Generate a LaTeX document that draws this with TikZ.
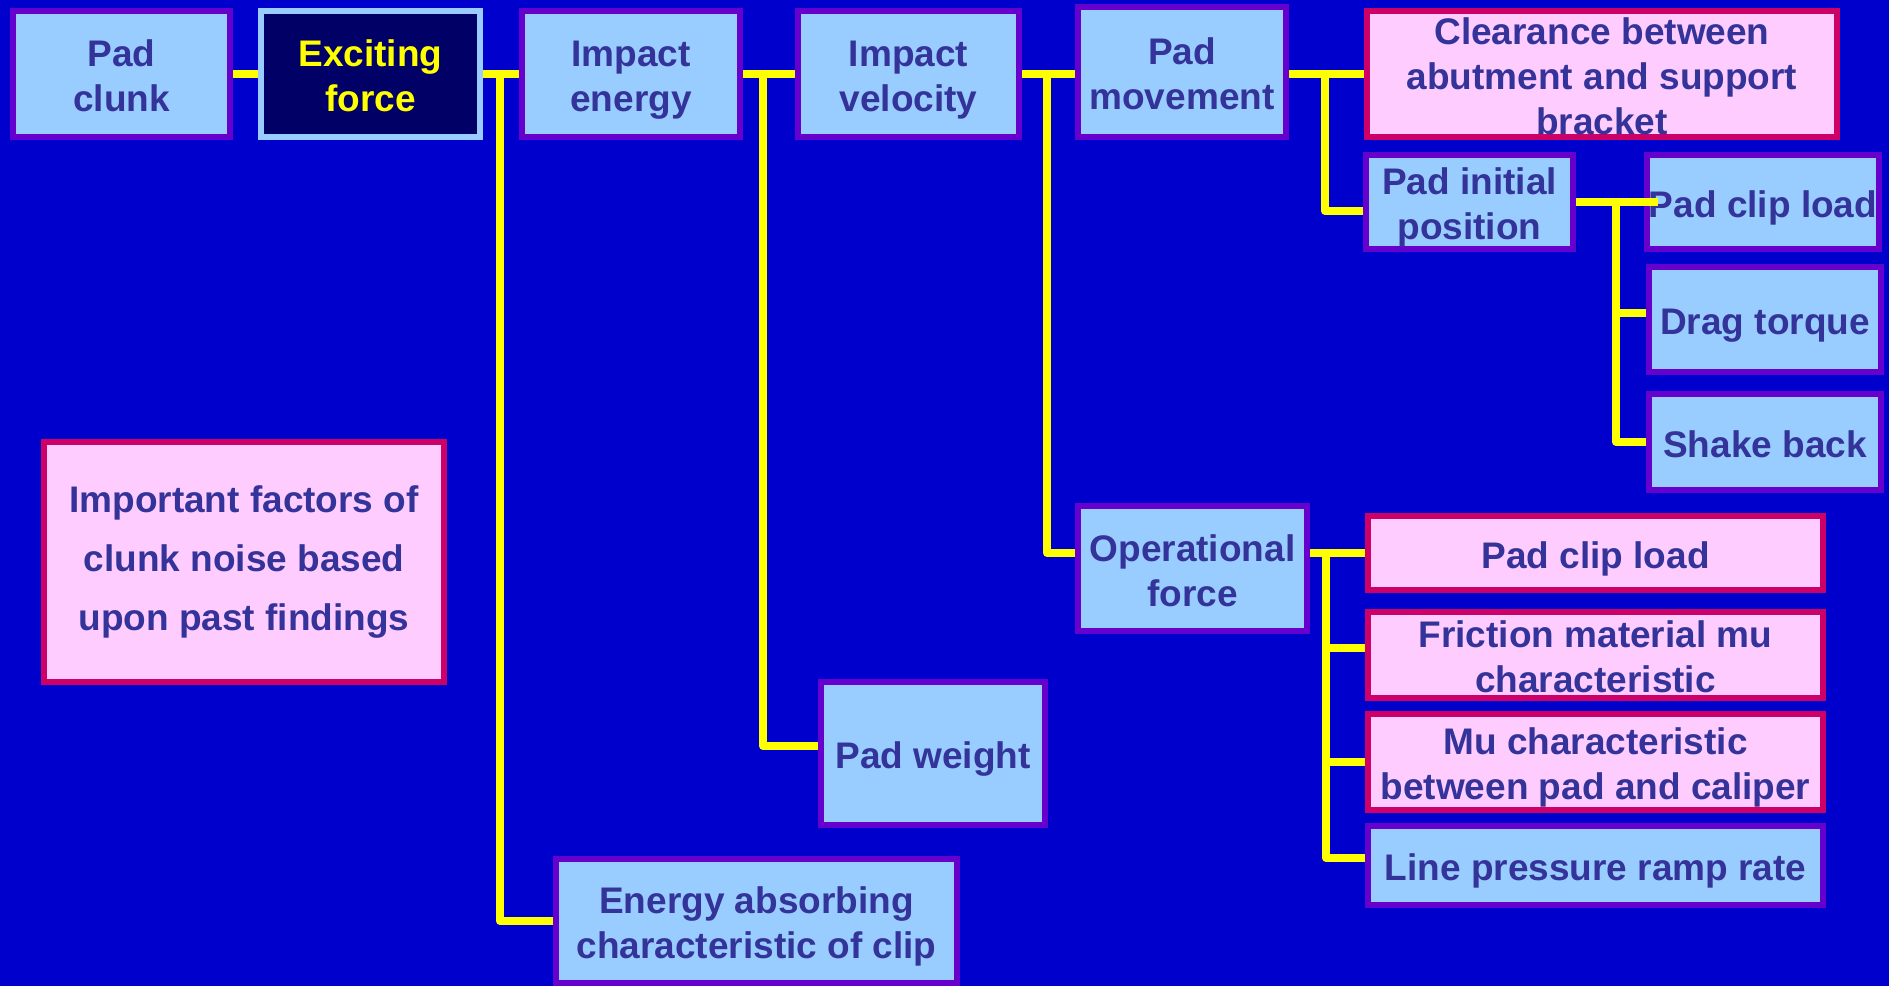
\documentclass[tikz,border=0pt]{standalone}
\usepackage{fontspec}
\setmainfont{Liberation Sans}
\definecolor{bg}{HTML}{0000CC}
\definecolor{lb}{HTML}{99CCFF}
\definecolor{pu}{HTML}{6600CC}
\definecolor{pk}{HTML}{FFCCFF}
\definecolor{cr}{HTML}{CC0066}
\definecolor{tx}{HTML}{333399}
\definecolor{nv}{HTML}{000066}
\definecolor{yl}{HTML}{FFFF00}
\newcommand{\boxtext}[1]{\raisebox{0pt}[\height][\dimexpr\depth-12pt\relax]{\begin{tabular}{@{}c@{}}#1\end{tabular}}}
\tikzset{
  basebox/.style={rectangle, line width=6pt, inner sep=0pt, align=center, text=tx,
    font=\bfseries\fontsize{37}{45}\selectfont},
  bluebox/.style={basebox, draw=pu, fill=lb},
  pinkbox/.style={basebox, draw=cr, fill=pk},
  darkbox/.style={basebox, draw=lb, fill=nv, text=yl},
  conn/.style={draw=yl, line width=8pt, line join=round, line cap=butt},
}
\begin{document}
\begin{tikzpicture}[x=1pt,y=-1pt]
\useasboundingbox (0,0) rectangle (1889,986);
\fill[bg] (0,0) rectangle (1889,986);

\node[bluebox, minimum width=217pt, minimum height=126pt] (padclunk) at (121.5,74) {\boxtext{Pad\\clunk}};
\node[darkbox, minimum width=219pt, minimum height=126pt] (exciting) at (370.5,74) {\boxtext{Exciting\\force}};
\node[bluebox, minimum width=218pt, minimum height=126pt] (impenergy) at (631,74) {\boxtext{Impact\\energy}};
\node[bluebox, minimum width=221pt, minimum height=126pt] (impvel) at (908.5,74) {\boxtext{Impact\\velocity}};
\node[bluebox, minimum width=208pt, minimum height=130pt] (padmove) at (1182,72) {\boxtext{Pad\\movement}};
\node[pinkbox, minimum width=470pt, minimum height=126pt] (clearance) at (1602,74) {\boxtext{Clearance between\\abutment and support\\bracket}};
\node[bluebox, minimum width=207pt, minimum height=94pt] (padinit) at (1469.5,202) {\boxtext{Pad initial\\position}};
\node[bluebox, minimum width=232pt, minimum height=94pt] (pclA) at (1763,202) {\boxtext{Pad clip load}};
\node[bluebox, minimum width=232pt, minimum height=105pt] (drag) at (1765,319.5) {\boxtext{Drag torque}};
\node[bluebox, minimum width=232pt, minimum height=96pt] (shake) at (1765,442) {\boxtext{Shake back}};
\node[pinkbox, minimum width=400pt, minimum height=240pt, font=\bfseries\fontsize{37}{59}\selectfont] (important) at (244,562) {Important factors of\\clunk noise based\\upon past findings};
\node[bluebox, minimum width=229pt, minimum height=125pt] (operational) at (1192.5,568.5) {\boxtext{Operational\\force}};
\node[pinkbox, minimum width=455pt, minimum height=74pt] (pclB) at (1595.5,553) {\boxtext{Pad clip load}};
\node[pinkbox, minimum width=455pt, minimum height=86pt] (friction) at (1595.5,655) {\boxtext{Friction material mu\\characteristic}};
\node[pinkbox, minimum width=455pt, minimum height=96pt] (mu) at (1595.5,762) {\boxtext{Mu characteristic\\between pad and caliper}};
\node[bluebox, minimum width=455pt, minimum height=79pt] (linepress) at (1595.5,865.5) {\boxtext{Line pressure ramp rate}};
\node[bluebox, minimum width=224pt, minimum height=143pt] (padweight) at (933,753.5) {\boxtext{Pad weight}};
\node[bluebox, minimum width=401pt, minimum height=124pt] (energy) at (756.5,921) {\boxtext{Energy absorbing\\characteristic of clip}};

% connectors
\draw[conn] (padclunk.east) -- (exciting.west);
\draw[conn] (exciting.east) -- (impenergy.west);
\draw[conn] ([xshift=17pt]exciting.east) |- (energy.west);
\draw[conn] (impenergy.east) -- (impvel.west);
\draw[conn] ([xshift=20pt]impenergy.east) |- ([yshift=7.5pt]padweight.west);
\draw[conn] (impvel.east) -- (impvel.east -| padmove.west);
\draw[conn] ([xshift=25pt]impvel.east) |- ([yshift=15.5pt]operational.west);
\draw[conn] (padmove.east |- clearance.west) -- (clearance.west);
\draw[conn] ([xshift=-39pt]clearance.west) |- ([yshift=-9pt]padinit.west);
\draw[conn] (padinit.east) -- ([xshift=14pt]pclA.west);
\draw[conn] ([xshift=40pt]padinit.east) |- ([yshift=6.5pt]drag.west);
\draw[conn] ([xshift=40pt]padinit.east) |- (shake.west);
\draw[conn] ([yshift=15.5pt]operational.east) -- (pclB.west);
\draw[conn] ([xshift=16pt,yshift=15.5pt]operational.east) |- ([yshift=7pt]friction.west);
\draw[conn] ([xshift=16pt,yshift=15.5pt]operational.east) |- (mu.west);
\draw[conn] ([xshift=16pt,yshift=15.5pt]operational.east) |- ([yshift=7.5pt]linepress.west);
\end{tikzpicture}
\end{document}
